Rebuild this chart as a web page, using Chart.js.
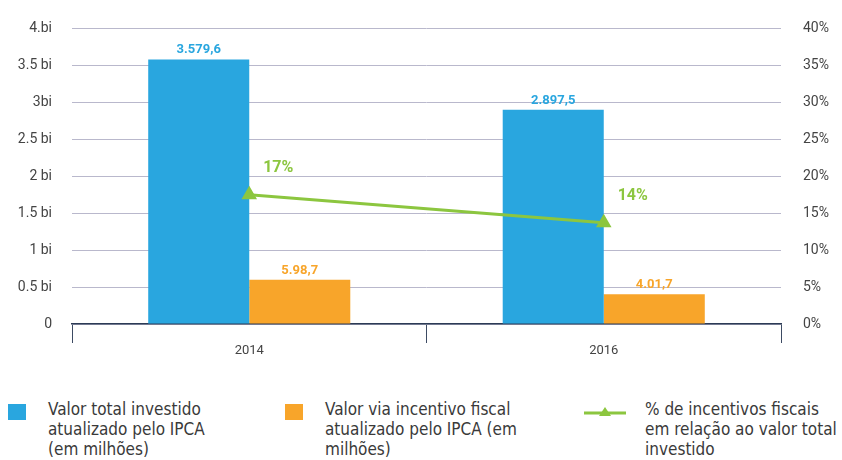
<!DOCTYPE html>
<html>
<head>
<meta charset="utf-8">
<script src="https://cdn.jsdelivr.net/npm/chart.js@4.4.1/dist/chart.umd.min.js"></script>
<style>
  body { margin: 0; background: #fff; width: 842px; height: 460px; overflow: hidden; }
  #wrap { position: absolute; left: 0; top: 0; width: 842px; height: 365px; }
  .leg { position: absolute; top: 399px; font-family: "DejaVu Sans", sans-serif; font-stretch: condensed;
         font-size: 17px; line-height: 20px; color: #3a3a3a; white-space: nowrap; }
  .sw { position: absolute; width: 18px; height: 16px; }
</style>
</head>
<body>
<div id="wrap"><canvas id="chart"></canvas></div>

<div class="sw" style="left:8px; top:404px; background:#29a6df;"></div>
<div class="leg" style="left:48px;">Valor total investido<br>atualizado pelo IPCA<br>(em milhões)</div>

<div class="sw" style="left:285px; top:404px; background:#f8a52a;"></div>
<div class="leg" style="left:325px;">Valor via incentivo fiscal<br>atualizado pelo IPCA (em<br>milhões)</div>

<canvas id="lineKey" width="46" height="16" style="position:absolute; left:582px; top:404px;"></canvas>
<div class="leg" style="left:645px;">% de incentivos fiscais<br>em relação ao valor total<br>investido</div>

<script>
    "use strict";

    // Data
    var years = ["2014", "2016"];
    var totalInvested = [3.5796, 2.8975];   // bi
    var viaIncentive = [0.5987, 0.4017];    // bi
    var totalLabels = ["3.579,6", "2.897,5"];
    var incentiveLabels = ["5.98,7", "4.01,7"];
    var pctIncentive = [17.5, 13.7];
    var pctLabels = ["17%", "14%"];
    var leftTicks = ["0", "0.5 bi", "1 bi", "1.5 bi", "2 bi", "2.5 bi", "3bi", "3.5 bi", "4.bi"];
    var rightTicks = ["0%", "5%", "10%", "15%", "20%", "25%", "30%", "35%", "40%"];

    var BLUE = "#29a6df";
    var ORANGE = "#f8a52a";
    var GREEN = "#8cc63f";

    // legend key for the line
    var k = document.getElementById("lineKey").getContext("2d");
    k.strokeStyle = GREEN; k.lineWidth = 3;
    k.beginPath(); k.moveTo(2, 9); k.lineTo(44, 9); k.stroke();
    k.fillStyle = GREEN;
    k.beginPath(); k.moveTo(23, 3); k.lineTo(29, 12); k.lineTo(17, 12); k.closePath(); k.fill();

    // Value labels
    var valueLabels = {
        id: "valueLabels",
        afterDatasetsDraw: function (chart) {
            var ctx = chart.ctx;
            ctx.save();
            ctx.textAlign = "center";
            ctx.textBaseline = "bottom";
            ctx.font = "bold 13px Roboto, sans-serif";
            [[0, totalLabels, BLUE], [1, incentiveLabels, ORANGE]].forEach(function (d) {
                chart.getDatasetMeta(d[0]).data.forEach(function (bar, i) {
                    ctx.fillStyle = d[2];
                    ctx.fillText(d[1][i], bar.x, bar.y - 3);
                });
            });
            ctx.font = "bold 16px Roboto, sans-serif";
            ctx.fillStyle = GREEN;
            chart.getDatasetMeta(2).data.forEach(function (pt, i) {
                ctx.fillText(pctLabels[i], pt.x + 29, pt.y - 19);
            });
            ctx.restore();
        }
    };

    var ctx = document.getElementById("chart").getContext("2d");
    var myChart = new Chart(ctx, {
        type: "bar",
        data: {
            labels: years,
            datasets: [{
                    label: "Valor total investido atualizado pelo IPCA (em milhões)",
                    data: totalInvested,
                    backgroundColor: BLUE,
                    yAxisID: "y",
                    order: 1
                },
                {
                    label: "Valor via incentivo fiscal atualizado pelo IPCA (em milhões)",
                    data: viaIncentive,
                    backgroundColor: ORANGE,
                    yAxisID: "y",
                    order: 1
                },
                {
                    type: "line",
                    label: "% de incentivos fiscais em relação ao valor total investido",
                    data: pctIncentive,
                    borderColor: GREEN,
                    backgroundColor: GREEN,
                    borderWidth: 3,
                    pointStyle: "triangle",
                    pointRadius: 6,
                    yAxisID: "y1",
                    order: 0
                }
            ]
        },
        plugins: [valueLabels],
        options: {
            responsive: true,
            maintainAspectRatio: false,
            animation: false,
            categoryPercentage: 0.57,
            barPercentage: 1,
            layout: { padding: { top: 16, left: 0, right: 0, bottom: 0 } },
            plugins: {
                legend: { display: false },
                tooltip: { enabled: false }
            },
            scales: {
                x: {
                    offset: true,
                    grid: { offset: true, drawOnChartArea: false, color: "#3d4b63", tickLength: 19, lineWidth: 1 },
                    border: { color: "#2c3b55", width: 1.5 },
                    ticks: { color: "#444", font: { family: "Roboto", size: 13 }, padding: 0 },
                    afterFit: function (s) { s.height = 41; }
                },
                y: {
                    position: "left",
                    min: 0, max: 4,
                    grid: { color: "#b9b8cc", drawTicks: false },
                    border: { display: false },
                    ticks: {
                        stepSize: 0.5,
                        color: "#444",
                        font: { family: "Roboto", size: 14 },
                        padding: 20,
                        callback: function (v, i) { return leftTicks[i]; }
                    },
                    afterFit: function (s) { s.width = 72; }
                },
                y1: {
                    position: "right",
                    min: 0, max: 40,
                    grid: { display: false },
                    border: { display: false },
                    ticks: {
                        stepSize: 5,
                        color: "#444",
                        font: { family: "Roboto", size: 14 },
                        padding: 14,
                        callback: function (v, i) { return rightTicks[i]; }
                    },
                    afterFit: function (s) { s.width = 61; }
                }
            }
        }
    });
</script>
</body>
</html>
